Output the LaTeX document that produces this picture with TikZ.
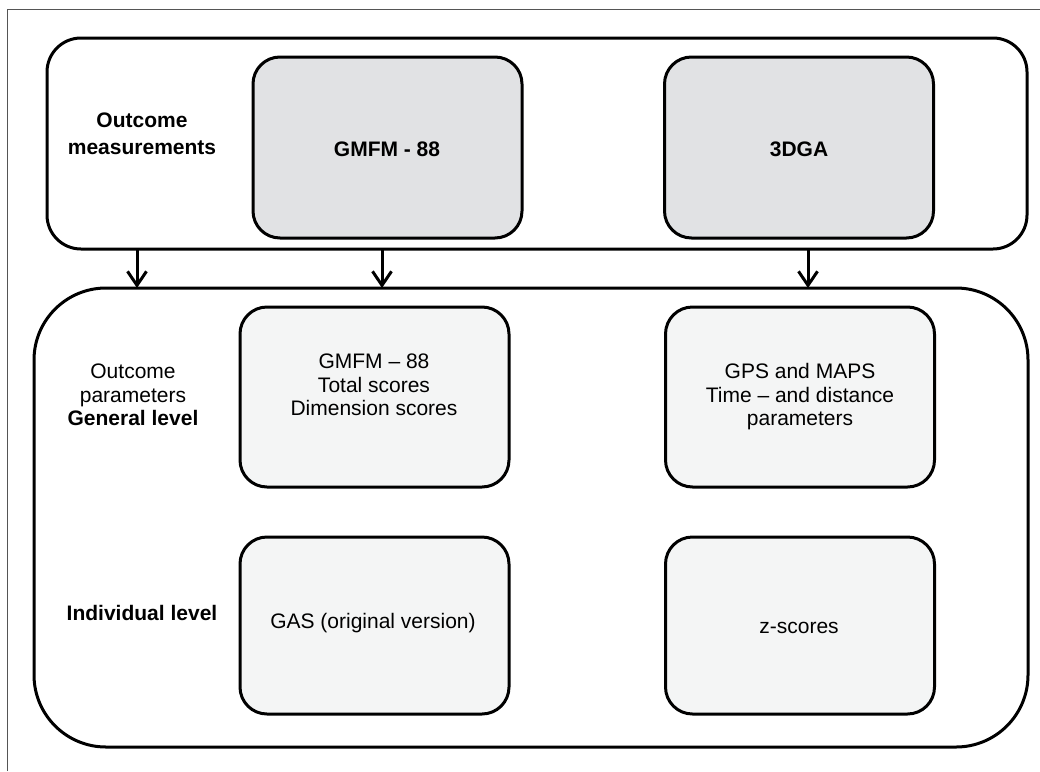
\documentclass[tikz,border=0pt]{standalone}
\usepackage{fontspec}
\setmainfont{Liberation Sans}
\usetikzlibrary{arrows.meta}
\definecolor{topfill}{HTML}{E1E2E4}
\definecolor{botfill}{HTML}{F4F5F5}
\definecolor{framegray}{HTML}{555555}
\tikzset{
  outerbox/.style={draw=black, line width=3pt, fill=white, outer sep=0pt, inner sep=0pt},
  innerbox/.style={draw=black, line width=3pt, outer sep=0pt, inner sep=0pt, rounded corners=27pt},
  headbox/.style={innerbox, fill=topfill, minimum width=269pt, minimum height=181pt},
  parambox/.style={innerbox, fill=botfill, minimum width=269pt},
  txt/.style={align=center, inner sep=0pt, font=\fontsize{21}{23.5}\selectfont},
  btxt/.style={txt, font=\fontsize{21}{27}\selectfont\bfseries},
  arr/.style={line width=3pt, -{Straight Barb[length=14pt,width=19pt,line width=3pt]}}
}
\begin{document}
\begin{tikzpicture}[x=1pt,y=-1pt]
\useasboundingbox (0,0) rectangle (1040,771);
% frame (top and left edges)
\draw[framegray, line width=1.3pt] (7.5,771) -- (7.5,9.5) -- (1040,9.5);
% outer boxes
\node[outerbox, rounded corners=34pt, minimum width=980pt, minimum height=211pt] (meas) at (537,143.5) {};
\node[outerbox, rounded corners=72pt, minimum width=994pt, minimum height=459pt] (params) at (531,517.5) {};
% header boxes
\node[headbox] (gmfm) at (387.5,147.5) {};
\node[headbox] (dga) at (799,147.5) {};
% parameter boxes
\node[parambox, minimum height=180pt] (gmfmpar) at (374.5,397) {};
\node[parambox, minimum height=180pt] (gpspar) at (800,397) {};
\node[parambox, minimum height=177pt] (gas) at (374.5,625.5) {};
\node[parambox, minimum height=177pt] (zsc) at (800,625.5) {};
% texts
\node[btxt] (meastxt) at (142,134) {Outcome\\measurements};
\node[btxt] (gmfmtxt) at (387,149) {GMFM - 88};
\node[btxt] (dgatxt) at (799,149) {3DGA};
\node[txt] (partxt) at (133,395) {Outcome\\parameters\\\textbf{General level}};
\node[txt] (gmfmpartxt) at (374,385) {GMFM – 88\\Total scores\\Dimension scores};
\node[txt] (gpspartxt) at (800,397) {GPS and MAPS\\Time – and distance\\parameters};
\node[btxt] (indtxt) at (142,613) {Individual level};
\node[txt] (gastxt) at (373,623) {GAS (original version)};
\node[txt] (zsctxt) at (799,628) {z-scores};
% arrows
\coordinate (a1) at (137,249);
\coordinate (a2) at (382,249);
\coordinate (a3) at (808,249);
\draw[arr] (a1) -- (a1 |- params.north);
\draw[arr] (a2) -- (a2 |- params.north);
\draw[arr] (a3) -- (a3 |- params.north);
\end{tikzpicture}
\end{document}
